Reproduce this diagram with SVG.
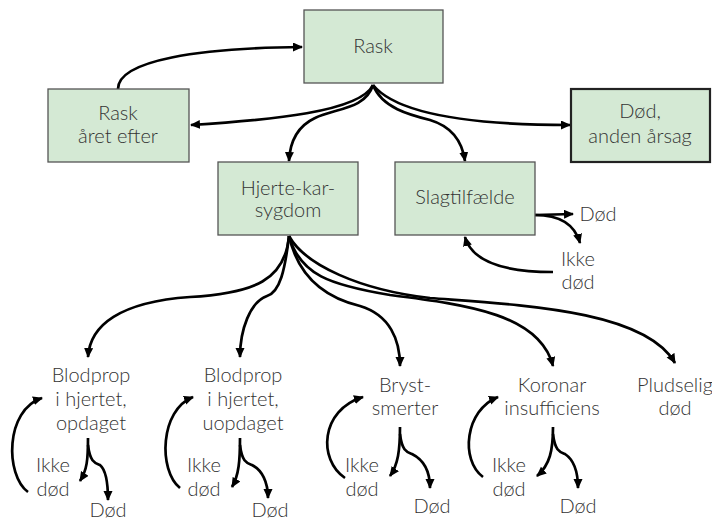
<svg xmlns="http://www.w3.org/2000/svg" width="712" height="522" viewBox="0 0 712 522">
<defs>
<marker id="ah" markerUnits="userSpaceOnUse" markerWidth="11" markerHeight="10" refX="9" refY="4.5" orient="auto">
<path d="M0,0 L10,4.5 L0,9 z" fill="#000"/>
</marker>
<style>
.box{fill:#d4e9d4;stroke:#555;stroke-width:1.3}
.boxd{fill:#d4e9d4;stroke:#222;stroke-width:2.2}
.t{font-family:Lato,"Open Sans","Liberation Sans",sans-serif;font-weight:300;font-size:20px;fill:#333;text-anchor:middle}
.c{fill:none;stroke:#000;stroke-width:2.7;marker-end:url(#ah)}
</style>
</defs>
<rect width="712" height="522" fill="#fff"/>

<g id="connectors">
<path class="c" d="M118,89 C118,60 200,48 302,47"/>
<path class="c" d="M373,85 C360,112 270,120 191,125"/>
<path class="c" d="M373,85 C365,110 335,108 315,118 C298,126 290,140 289,161"/>
<path class="c" d="M373,85 C382,108 410,115 430,120 C450,126 462,140 465,161"/>
<path class="c" d="M373,85 C395,112 460,125 570,125"/>

<path class="c" d="M535,215 L573,214"/>
<path class="c" d="M535,215 C560,215 575,225 580,243"/>
<path class="c" d="M553,272 C505,272 472,262 465,237"/>

<path class="c" d="M289,236 C285,280 255,293 190,297 C120,302 90,325 88,357"/>
<path class="c" d="M289,236 C285,270 280,292 267,296 C250,302 240,330 240,357"/>
<path class="c" d="M289,236 C300,285 335,300 360,306 C390,315 400,340 400,366"/>
<path class="c" d="M289,236 C300,275 330,285 390,295 C470,305 540,315 553,366"/>
<path class="c" d="M289,236 C305,265 360,290 430,298 C520,305 645,310 675,363"/>

<path class="c" d="M88,438 C88,460 87,470 80,481"/>
<path class="c" d="M88,445 C90,462 95,463 100,465 C106,470 108,485 108,500"/>
<path class="c" d="M28,492 C5,475 5,410 42,398"/>

<path class="c" d="M240,438 C240,460 239,475 232,487"/>
<path class="c" d="M240,445 C242,462 247,463 252,465 C262,470 268,482 268,498"/>
<path class="c" d="M180,488 C158,470 160,410 193,397"/>

<path class="c" d="M400,427 C400,450 398,465 390,476"/>
<path class="c" d="M400,434 C402,451 407,452 412,454 C424,460 430,472 430,488"/>
<path class="c" d="M345,478 C318,460 320,410 363,397"/>

<path class="c" d="M553,427 C553,450 550,465 537,476"/>
<path class="c" d="M553,434 C555,451 560,452 565,454 C574,460 578,472 578,488"/>
<path class="c" d="M483,477 C460,460 465,410 498,397"/>
</g>

<g id="rask">
<rect class="box" x="304" y="10" width="139" height="73"/>
<text class="t" x="373" y="53">Rask</text>
</g>
<g id="rask-aaret-efter">
<rect class="box" x="48" y="89" width="141" height="73"/>
<text class="t" x="118" y="120">Rask</text>
<text class="t" x="118" y="143">året efter</text>
</g>
<g id="doed-anden">
<rect class="boxd" x="571" y="89" width="139" height="73"/>
<text class="t" x="640" y="118">Død,</text>
<text class="t" x="640" y="143">anden årsag</text>
</g>
<g id="hjerte">
<rect class="box" x="218" y="162" width="140" height="73"/>
<text class="t" x="288" y="195">Hjerte-kar-</text>
<text class="t" x="288" y="217">sygdom</text>
</g>
<g id="slag">
<rect class="box" x="395" y="162" width="140" height="73"/>
<text class="t" x="465" y="204">Slagtilfælde</text>
</g>
<g id="slag-doed"><text class="t" x="598" y="221">Død</text></g>
<g id="slag-ikke"><text class="t" x="578" y="266">Ikke</text><text class="t" x="578" y="289">død</text></g>

<g id="blodprop-opdaget">
<text class="t" x="91" y="382">Blodprop</text>
<text class="t" x="91" y="406">i hjertet,</text>
<text class="t" x="91" y="430">opdaget</text>
</g>
<g id="opd-ikke"><text class="t" x="53" y="472">Ikke</text><text class="t" x="53" y="496">død</text></g>
<g id="opd-doed"><text class="t" x="108" y="517">Død</text></g>

<g id="blodprop-uopdaget">
<text class="t" x="243" y="382">Blodprop</text>
<text class="t" x="243" y="406">i hjertet,</text>
<text class="t" x="243" y="430">uopdaget</text>
</g>
<g id="uopd-ikke"><text class="t" x="204" y="472">Ikke</text><text class="t" x="204" y="496">død</text></g>
<g id="uopd-doed"><text class="t" x="270" y="517">Død</text></g>

<g id="bryst">
<text class="t" x="405" y="392">Bryst-</text>
<text class="t" x="405" y="415">smerter</text>
</g>
<g id="bryst-ikke"><text class="t" x="362" y="472">Ikke</text><text class="t" x="362" y="496">død</text></g>
<g id="bryst-doed"><text class="t" x="432" y="513">Død</text></g>

<g id="koronar">
<text class="t" x="552" y="392">Koronar</text>
<text class="t" x="552" y="415">insufficiens</text>
</g>
<g id="koronar-ikke"><text class="t" x="509" y="472">Ikke</text><text class="t" x="509" y="496">død</text></g>
<g id="koronar-doed"><text class="t" x="578" y="513">Død</text></g>

<g id="pludselig">
<text class="t" x="675" y="392">Pludselig</text>
<text class="t" x="675" y="415">død</text>
</g>
</svg>
